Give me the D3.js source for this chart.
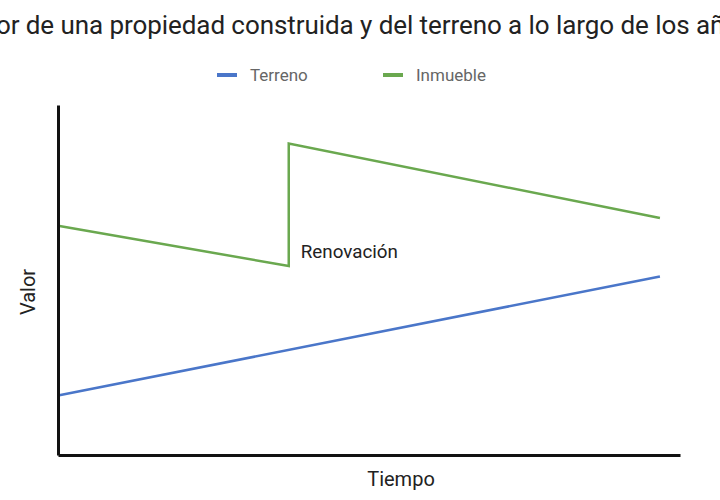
<!DOCTYPE html>
<html>
<head>
<meta charset="utf-8">
<script src="https://cdn.jsdelivr.net/npm/d3@7"></script>
<style>
  body { margin: 0; background: #fff; }
  text { font-family: Roboto, "Noto Sans", sans-serif; }
</style>
</head>
<body>
<div id="container"></div>
<script>
// datos
const tiempo = [0, 11.5, 11.5, 30];
const terreno = [17, 51]; // en tiempo 0 y 30
const terrenoTiempo = [0, 30];
const inmueble = [65.5, 54, 89, 67.7];
const series = ["Terreno", "Inmueble"];
const colores = ["#4a76c9", "#6aa84f"];

const width = 720;
const height = 500;

const svg = d3
  .select("#container")
  .append("svg")
  .attr("width", width)
  .attr("height", height);

// escalas
const xScale = d3.scaleLinear().domain([0, 31]).range([58, 680]);
const yScale = d3.scaleLinear().domain([0, 100]).range([455, 105]);

// titulo (se sale del ancho, como en el original)
svg
  .append("text")
  .attr("x", 356)
  .attr("y", 34)
  .attr("text-anchor", "middle")
  .attr("font-size", 26)
  .attr("letter-spacing", -0.07)
  .attr("fill", "#222")
  .text("Valor de una propiedad construida y del terreno a lo largo de los años");

// leyenda
const legendX = [217, 383];
series.forEach((s, i) => {
  svg
    .append("rect")
    .attr("x", legendX[i])
    .attr("y", 73)
    .attr("width", 20)
    .attr("height", 4)
    .attr("fill", colores[i]);
  svg
    .append("text")
    .attr("x", legendX[i] + 33)
    .attr("y", 81)
    .attr("font-size", 17)
    .attr("fill", "#666")
    .text(s);
});

// lineas
const line = d3
  .line()
  .x((d) => xScale(d[0]))
  .y((d) => yScale(d[1]));

svg
  .append("path")
  .datum(terrenoTiempo.map((t, i) => [t, terreno[i]]))
  .attr("d", line)
  .attr("fill", "none")
  .attr("stroke", colores[0])
  .attr("stroke-width", 2.5);

svg
  .append("path")
  .datum(tiempo.map((t, i) => [t, inmueble[i]]))
  .attr("d", line)
  .attr("fill", "none")
  .attr("stroke", colores[1])
  .attr("stroke-width", 2.5);

// anotacion
svg
  .append("text")
  .attr("x", xScale(tiempo[1]) + 12)
  .attr("y", 258)
  .attr("font-size", 18.8)
  .attr("fill", "#222")
  .text("Renovación");

// ejes (sin marcas)
const xAxis = d3.axisBottom(xScale).tickValues([]).tickSizeOuter(0);
const yAxis = d3.axisLeft(yScale).tickValues([]).tickSizeOuter(0);

svg
  .append("g")
  .attr("transform", `translate(0, ${yScale(0)})`)
  .call(xAxis)
  .select(".domain")
  .attr("stroke", "#111")
  .attr("stroke-width", 3);

svg
  .append("g")
  .attr("transform", `translate(${xScale(0)}, 0)`)
  .call(yAxis)
  .select(".domain")
  .attr("stroke", "#111")
  .attr("stroke-width", 3);

// titulos de ejes
svg
  .append("text")
  .attr("x", 401)
  .attr("y", 486)
  .attr("text-anchor", "middle")
  .attr("font-size", 20)
  .attr("fill", "#222")
  .text("Tiempo");

svg
  .append("text")
  .attr("transform", "translate(35, 292) rotate(-90)")
  .attr("text-anchor", "middle")
  .attr("font-size", 20)
  .attr("fill", "#222")
  .text("Valor");
</script>
</body>
</html>
